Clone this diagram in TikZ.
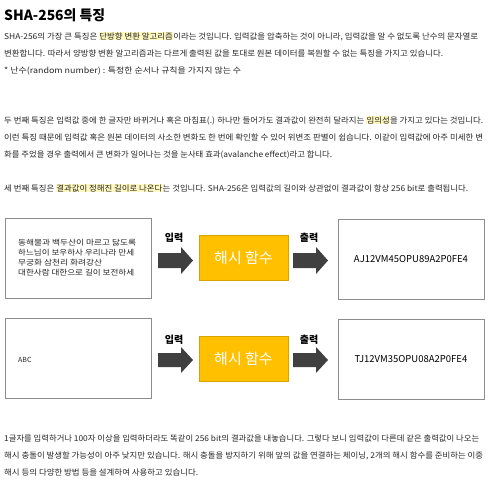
\documentclass[tikz,border=0pt]{standalone}
\usepackage{fontspec}
\setmainfont{Noto Sans CJK KR}
\usepackage{graphicx}
\setlength{\lineskiplimit}{-20pt}
\definecolor{txt}{HTML}{262626}
\definecolor{hlc}{HTML}{FFF8C0}
\definecolor{gold}{HTML}{FFC000}
\definecolor{goldb}{HTML}{D9A400}
\definecolor{darr}{HTML}{404040}
\definecolor{bord}{HTML}{8C8C8C}
\newcommand\hlt[1]{{\setlength{\fboxsep}{0.3pt}\colorbox{hlc}{\vphantom{가}#1}}}
\newcommand\fitw[2]{\resizebox{#1pt}{\height}{#2}}
\tikzset{
  para/.style={anchor=base west, inner sep=0pt, text=txt, font=\fontsize{8}{10}\selectfont},
  ttl/.style={anchor=base west, inner sep=0pt, text=black, font=\bfseries\fontsize{14}{16}\selectfont},
  box/.style={draw=bord, line width=0.9pt, minimum width=146pt, minimum height=80pt, inner sep=0pt},
  hashbox/.style={draw=goldb, fill=gold, line width=0.6pt, minimum width=89pt, minimum height=45pt, inner sep=0pt, text=white, font=\fontsize{15}{18}\selectfont},
  lbl/.style={anchor=base, inner sep=0pt, text=black, font=\bfseries\fontsize{10}{12}\selectfont},
  blockarrow/.style={fill=darr, draw=none},
  intext/.style={anchor=base west, inner sep=0pt, align=left, text=txt, font=\fontsize{7.6}{9.7}\selectfont},
  outtext/.style={anchor=center, inner sep=0pt, text=black, font=\fontsize{9.5}{11}\selectfont},
}
\begin{document}
\begin{tikzpicture}[x=1pt,y=-1pt]
\useasboundingbox (0,0) rectangle (492,483);
\fill[white] (0,0) rectangle (492,483);

\node[ttl] (title) at (4,20) {\fitw{101}{SHA-256의 특징}};

\node[para] (p1a) at (4,39) {\fitw{474}{SHA-256의 가장 큰 특징은 \hlt{단방향 변환 알고리즘}이라는 것입니다. 입력값을 압축하는 것이 아니라, 입력값을 알 수 없도록 난수의 문자열로}};
\node[para] (p1b) at (4,56) {\fitw{439}{변환합니다. 따라서 양방향 변환 알고리즘과는 다르게 출력된 값을 토대로 원본 데이터를 복원할 수 없는 특징을 가지고 있습니다.}};
\node[para] (p1c) at (4,73) {\fitw{237}{* 난수(random number) : 특정한 순서나 규칙을 가지지 않는 수}};

\node[para] (p2a) at (4,123) {\fitw{479}{두 번째 특징은 입력값 중에 한 글자만 바뀌거나 혹은 마침표(.) 하나만 들어가도 결과값이 완전히 달라지는 \hlt{임의성}을 가지고 있다는 것입니다.}};
\node[para] (p2b) at (4,140) {\fitw{479}{이런 특징 때문에 입력값 혹은 원본 데이터의 사소한 변화도 한 번에 확인할 수 있어 위변조 판별이 쉽습니다. 이같이 입력값에 아주 미세한 변}};
\node[para] (p2c) at (4,157) {\fitw{328}{화를 주었을 경우 출력에서 큰 변화가 일어나는 것을 눈사태 효과(avalanche effect)라고 합니다.}};

\node[para] (p3a) at (4,191) {\fitw{464}{세 번째 특징은 \hlt{결과값이 정해진 길이로 나온다}는 것입니다. SHA-256은 입력값의 길이와 상관없이 결과값이 항상 256 bit로 출력됩니다.}};

% diagram 1
\node[box] (in1) at (78,258) {};
\node[intext] (in1t) at (18,275) {\fitw{118}{동해물과 백두산이 마르고 닳도록}\\\fitw{116}{하느님이 보우하사 우리나라 만세}\\\fitw{84}{무궁화 삼천리 화려강산}\\\fitw{116}{대한사람 대한으로 길이 보전하세}};
\node[hashbox] (h1) at (243.5,257.5) {해시 함수};
\node[box] (out1) at (411,259) {};
\node[outtext] (out1t) at (out1.center) {AJ12VM45OPU89A2P0FE4};
\node[lbl] (l1) at (174,241) {입력};
\node[lbl] (l2) at (309,241) {출력};
\fill[blockarrow] (158,253) -- (181,253) -- (181,247) -- (193,260.5) -- (181,274) -- (181,268) -- (158,268) -- cycle;
\fill[blockarrow] (293,253) -- (316,253) -- (316,247) -- (328,260.5) -- (316,274) -- (316,268) -- (293,268) -- cycle;

% diagram 2
\node[box] (in2) at (78,358) {};
\node[intext, font=\fontsize{7}{9}\selectfont] (in2t) at (18,362) {ABC};
\node[hashbox] (h2) at (243.5,358.5) {해시 함수};
\node[box] (out2) at (411,359) {};
\node[outtext] (out2t) at (out2.center) {TJ12VM35OPU08A2P0FE4};
\node[lbl] (l3) at (174,343) {입력};
\node[lbl] (l4) at (309,343) {출력};
\fill[blockarrow] (158,353) -- (181,353) -- (181,347) -- (193,360) -- (181,373) -- (181,367) -- (158,367) -- cycle;
\fill[blockarrow] (293,353) -- (316,353) -- (316,347) -- (328,360) -- (316,373) -- (316,367) -- (293,367) -- cycle;

\node[para] (b1) at (4,441) {\fitw{475}{1글자를 입력하거나 100자 이상을 입력하더라도 똑같이 256 bit의 결과값을 내놓습니다. 그렇다 보니 입력값이 다른데 같은 출력값이 나오는}};
\node[para] (b2) at (4,458) {\fitw{479}{해시 충돌이 발생할 가능성이 아주 낮지만 있습니다. 해시 충돌을 방지하기 위해 앞의 값을 연결하는 체이닝, 2개의 해시 함수를 준비하는 이중}};
\node[para] (b3) at (4,475) {\fitw{194}{해시 등의 다양한 방법 등을 설계하여 사용하고 있습니다.}};
\end{tikzpicture}
\end{document}
